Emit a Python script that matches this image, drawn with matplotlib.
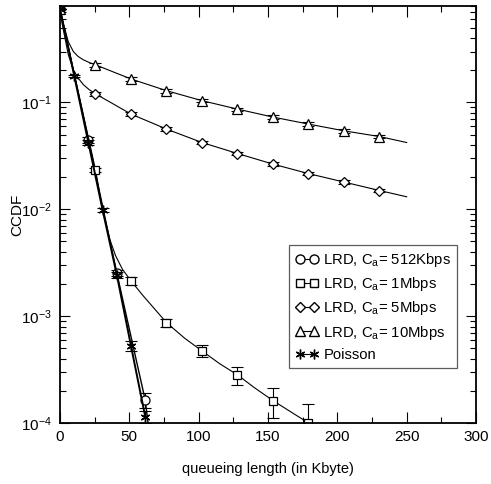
import numpy as np
import matplotlib
matplotlib.use("Agg")
import matplotlib.pyplot as plt
from matplotlib.ticker import FixedLocator, LogLocator, NullFormatter

plt.rcParams['font.family'] = ['Liberation Sans', 'DejaVu Sans']
plt.rcParams['mathtext.fontset'] = 'custom'
plt.rcParams['mathtext.rm'] = 'Liberation Sans'
plt.rcParams['mathtext.it'] = 'Liberation Sans:italic'

# LRD, Ca = 512Kbps (circles)
c512_x = [0, 20.48, 40.96, 61.44]
c512_y = [0.75, 0.045, 2.53e-3, 1.64e-4]
c512_err = [0, 0.003, 0.15e-3, 0.25e-4]
c512_line_x = [0, 20.48, 40.96, 61.44, 63.5]
c512_line_y = [0.75, 0.045, 2.53e-3, 1.64e-4, 1.0e-4]

# LRD, Ca = 1Mbps (squares)
c1m_x = [0, 25.6, 51.2, 76.8, 102.4, 128.0, 153.6, 179.2]
c1m_y = [0.75, 0.0234, 2.14e-3, 8.7e-4, 4.73e-4, 2.82e-4, 1.62e-4, 1.0e-4]
c1m_err = [0, 0.001, 0.17e-3, 0.75e-4, 0.6e-4, 0.55e-4, 0.5e-4, 0.5e-4]
c1m_line_x = [0, 25.6, 30, 33, 36, 40, 45, 51.2, 60, 76.8, 90, 102.4, 115, 128.0, 140, 153.6, 179.2]
c1m_line_y = [0.75, 0.0234, 0.011, 0.0075, 5.2e-3, 3.7e-3, 2.75e-3, 2.14e-3, 1.55e-3, 8.7e-4,
              6.2e-4, 4.73e-4, 3.6e-4, 2.82e-4, 2.15e-4, 1.62e-4, 1.0e-4]

# LRD, Ca = 5Mbps (diamonds)
c5m_x = [0, 25.6, 51.2, 76.8, 102.4, 128.0, 153.6, 179.2, 204.8, 230.4]
c5m_y = [0.75, 0.1205, 0.0779, 0.0564, 0.0422, 0.0333, 0.0265, 0.0216, 0.0180, 0.0150]
c5m_err = [0, 0.005, 0.003, 0.002, 0.0016, 0.0013, 0.001, 0.0008, 0.0007, 0.0006]
c5m_line_x = [0, 1.5, 3.6, 6, 9.6, 13, 16.8, 21, 25.6, 51.2, 76.8, 102.4, 128.0, 153.6, 179.2, 204.8, 230.4, 250]
c5m_line_y = [0.75, 0.55, 0.40, 0.28, 0.202, 0.17, 0.147, 0.132, 0.1205, 0.0779, 0.0564, 0.0422,
              0.0333, 0.0265, 0.0216, 0.0180, 0.0150, 0.0131]

# LRD, Ca = 10Mbps (triangles)
c10m_x = [0, 25.6, 51.2, 76.8, 102.4, 128.0, 153.6, 179.2, 204.8, 230.4]
c10m_y = [0.75, 0.225, 0.166, 0.129, 0.104, 0.0867, 0.073, 0.0628, 0.0543, 0.048]
c10m_err = [0, 0.008, 0.006, 0.005, 0.004, 0.003, 0.0026, 0.0022, 0.002, 0.0017]
c10m_line_x = [0, 1.5, 3.6, 6, 9.6, 13, 16.8, 21, 25.6, 51.2, 76.8, 102.4, 128.0, 153.6, 179.2, 204.8, 230.4, 250]
c10m_line_y = [0.75, 0.58, 0.48, 0.37, 0.30, 0.27, 0.251, 0.237, 0.225, 0.166, 0.129, 0.104,
               0.0867, 0.073, 0.0628, 0.0543, 0.048, 0.0422]

# Poisson (stars)
pois_x = [0, 10.24, 20.48, 30.72, 40.96, 51.2, 61.44]
pois_y = [0.75, 0.178, 0.0421, 9.88e-3, 2.44e-3, 5.27e-4, 1.15e-4]
pois_err = [0, 0.004, 0.002, 0.4e-3, 0.15e-3, 0.6e-4, 0.15e-4]

labels = ['LRD, C$_\\mathrm{a}$= 512Kbps', 'LRD, C$_\\mathrm{a}$= 1Mbps',
          'LRD, C$_\\mathrm{a}$= 5Mbps', 'LRD, C$_\\mathrm{a}$= 10Mbps', 'Poisson']

fig = plt.figure(figsize=(4.91, 4.84), dpi=100)
ax = fig.add_axes([60/491, 61/484, 416/491, 417/484])

mk = dict(mfc='white', mec='black', mew=0.9, color='black')
eb = dict(fmt='none', ecolor='black', elinewidth=0.8, capsize=4, capthick=0.8)

# circles
ax.plot(c512_line_x, c512_line_y, color='black', lw=1.0)
ax.errorbar(c512_x, c512_y, yerr=c512_err, **eb)
ax.plot(c512_x, c512_y, ls='none', marker='o', ms=6.5, **mk)
# squares
ax.plot(c1m_line_x, c1m_line_y, color='black', lw=0.8)
ax.errorbar(c1m_x, c1m_y, yerr=c1m_err, **eb)
ax.plot(c1m_x, c1m_y, ls='none', marker='s', ms=5.5, **mk)
# diamonds
ax.plot(c5m_line_x, c5m_line_y, color='black', lw=0.8)
ax.errorbar(c5m_x, c5m_y, yerr=c5m_err, **eb)
ax.plot(c5m_x, c5m_y, ls='none', marker='D', ms=5.5, **mk)
# triangles
ax.plot(c10m_line_x, c10m_line_y, color='black', lw=0.8)
ax.errorbar(c10m_x, c10m_y, yerr=c10m_err, **eb)
ax.plot(c10m_x, c10m_y, ls='none', marker='^', ms=6.5, **mk)
# poisson
ax.plot(pois_x, pois_y, color='black', lw=1.4)
ax.errorbar(pois_x, pois_y, yerr=pois_err, **eb)
ax.plot(pois_x, pois_y, ls='none', marker=(6, 2, 0), ms=7, mec='black', mew=1.0)

# legend proxies
handles = [
    plt.Line2D([], [], color='black', lw=0.8, marker='o', ms=6.5, mfc='white', mec='black'),
    plt.Line2D([], [], color='black', lw=0.8, marker='s', ms=5.5, mfc='white', mec='black'),
    plt.Line2D([], [], color='black', lw=0.8, marker='D', ms=5, mfc='white', mec='black'),
    plt.Line2D([], [], color='black', lw=0.8, marker='^', ms=6.5, mfc='white', mec='black'),
    plt.Line2D([], [], color='black', lw=0.8, marker=(6, 2, 0), ms=7, mec='black'),
]
leg = ax.legend(handles, labels, loc='upper left', bbox_to_anchor=(0.551, 0.427),
                numpoints=2, handlelength=1.6, handletextpad=0.3, labelspacing=0.42,
                fontsize=10.7, fancybox=False, borderpad=0.4, borderaxespad=0)
leg.get_frame().set_edgecolor('#333333')
leg.get_frame().set_linewidth(0.9)

ax.set_yscale('log')
ax.set_xlim(0, 300)
ax.set_ylim(1e-4, 0.8)
ax.set_xticks([0, 50, 100, 150, 200, 250, 300])
ax.xaxis.set_minor_locator(FixedLocator([25, 75, 125, 175, 225, 275]))
ax.yaxis.set_major_locator(FixedLocator([1e-4, 1e-3, 1e-2, 1e-1]))
ax.yaxis.set_minor_locator(LogLocator(base=10, subs=np.arange(2, 10)))
ax.yaxis.set_minor_formatter(NullFormatter())
ax.set_yticklabels(['10$^{-4}$', '10$^{-3}$', '10$^{-2}$', '10$^{-1}$'])

ax.tick_params(which='both', direction='in', top=True, right=True, labelsize=11, width=0.8)
ax.tick_params(axis='x', which='major', length=8, pad=5)
ax.tick_params(axis='x', which='minor', length=4.5)
ax.tick_params(axis='y', which='major', length=7, pad=6)
ax.tick_params(axis='y', which='minor', length=4)
for s in ax.spines.values():
    s.set_linewidth(1.3)

ax.set_xlabel('queueing length (in Kbyte)', fontsize=10.5, labelpad=13)
ax.set_ylabel('CCDF', fontsize=11)
ax.yaxis.set_label_coords(-0.087, 0.5)

fig.savefig('out.png', dpi=100)
